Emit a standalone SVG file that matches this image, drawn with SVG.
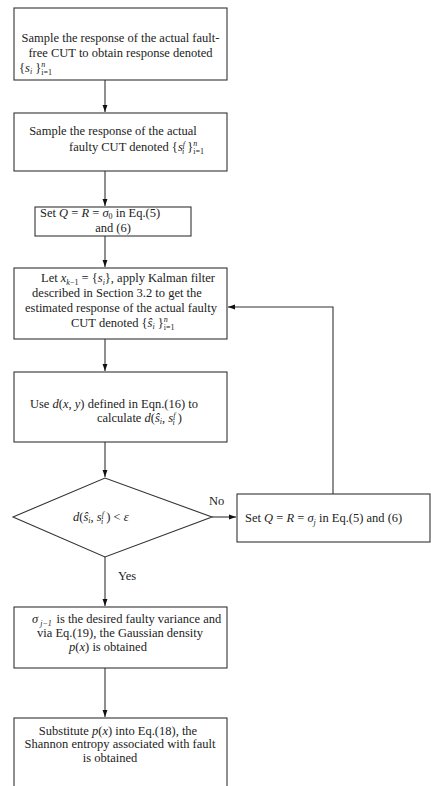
<svg xmlns="http://www.w3.org/2000/svg" width="431" height="786" viewBox="0 0 431 786">
<style>
text{font-family:"Liberation Serif","Times New Roman",serif;font-size:12.5px;fill:#222}
.c{text-anchor:middle}
.i{font-style:italic}
.s{font-size:8px}
.box{fill:#fff;stroke:#333;stroke-width:1.1}
.ln{stroke:#333;stroke-width:1.1;fill:none}
</style>
<defs>
<marker id="ah" markerWidth="7" markerHeight="11" refX="10" refY="3.5" orient="auto" markerUnits="userSpaceOnUse" viewBox="0 0 10 7">
<path d="M0,0 L10,3.5 L0,7 z" fill="#111"/>
</marker>
</defs>
<rect width="431" height="786" fill="#fff"/>
<g id="connectors">
<line class="ln" x1="105" y1="80" x2="105" y2="112" marker-end="url(#ah)"/>
<line class="ln" x1="105" y1="171" x2="105" y2="206" marker-end="url(#ah)"/>
<line class="ln" x1="105" y1="236" x2="105" y2="267" marker-end="url(#ah)"/>
<line class="ln" x1="105" y1="339" x2="105" y2="371" marker-end="url(#ah)"/>
<line class="ln" x1="105" y1="442" x2="105" y2="477" marker-end="url(#ah)"/>
<line class="ln" x1="212" y1="517" x2="236" y2="517" marker-end="url(#ah)"/>
<line class="ln" x1="105" y1="557" x2="105" y2="606" marker-end="url(#ah)"/>
<line class="ln" x1="105" y1="668" x2="105" y2="717" marker-end="url(#ah)"/>
<polyline class="ln" points="333,494 333,307 228,307" marker-end="url(#ah)"/>
<text x="209" y="505">No</text>
<text x="118" y="580">Yes</text>
</g>
<g id="n1">
<rect class="box" x="14" y="8" width="213" height="72"/>
<text class="c" x="120.5" y="42">Sample the response of the actual fault-</text>
<text class="c" x="120.5" y="57">free CUT to obtain response denoted</text>
<text x="19" y="72">{<tspan class="i">s</tspan><tspan class="i s" dy="2">i</tspan><tspan dy="-2"> }</tspan><tspan class="i s" dy="-5">n</tspan><tspan class="s" dx="-4" dy="8">i</tspan><tspan class="s">=1</tspan></text>
</g>
<g id="n2">
<rect class="box" x="14" y="113" width="213" height="58"/>
<text class="c" x="113" y="135">Sample the response of the actual</text>
<text x="69" y="151">faulty CUT denoted {<tspan class="i">s</tspan><tspan class="i s" dy="-4">f</tspan><tspan class="i s" dx="-3" dy="7">i</tspan><tspan dy="-3"> }</tspan><tspan class="i s" dy="-5">n</tspan><tspan class="s" dx="-4" dy="8">i</tspan><tspan class="s">=1</tspan></text>
</g>
<g id="n3">
<rect class="box" x="35" y="207" width="156" height="29"/>
<text x="40" y="217">Set  <tspan class="i">Q</tspan> = <tspan class="i">R</tspan> = <tspan class="i">σ</tspan><tspan class="s" dy="2">0</tspan><tspan dy="-2"> in Eq.(5)</tspan></text>
<text class="c" x="113" y="232">and (6)</text>
</g>
<g id="n4">
<rect class="box" x="14" y="268" width="213" height="71"/>
<text class="c" x="128" y="282">Let  <tspan class="i">x</tspan><tspan class="i s" dy="3">k</tspan><tspan class="s">−1</tspan><tspan dy="-3"> = {</tspan><tspan class="i">s</tspan><tspan class="i s" dy="3">i</tspan><tspan dy="-3">}, apply Kalman filter</tspan></text>
<text class="c" x="117" y="297">described in Section 3.2 to get the</text>
<text class="c" x="121" y="312">estimated response of the actual faulty</text>
<text x="71" y="327">CUT denoted  {<tspan class="i">ŝ</tspan><tspan class="i s" dy="2">i</tspan><tspan dy="-2"> }</tspan><tspan class="i s" dy="-5">n</tspan><tspan class="s" dx="-4" dy="8">i</tspan><tspan class="s">=1</tspan></text>
</g>
<g id="n5">
<rect class="box" x="14" y="372" width="213" height="70"/>
<text class="c" x="114" y="408">Use <tspan class="i">d</tspan>(<tspan class="i">x</tspan>, <tspan class="i">y</tspan>)  defined in Eqn.(16) to</text>
<text x="97" y="422">calculate <tspan class="i">d</tspan>(<tspan class="i">ŝ</tspan><tspan class="i s" dy="2">i</tspan><tspan dy="-2">, </tspan><tspan class="i">s</tspan><tspan class="i s" dy="-4">f</tspan><tspan class="i s" dx="-3" dy="7">i</tspan><tspan dy="-3"> )</tspan></text>
</g>
<g id="n6">
<polygon class="box" points="13,517 105,478 212,517 105,557"/>
<text x="73" y="521"><tspan class="i">d</tspan>(<tspan class="i">ŝ</tspan><tspan class="i s" dy="2">i</tspan><tspan dy="-2">, </tspan><tspan class="i">s</tspan><tspan class="i s" dy="-4">f</tspan><tspan class="i s" dx="-3" dy="7">i</tspan><tspan dy="-3"> ) &lt; </tspan><tspan class="i">ε</tspan></text>
</g>
<g id="n7">
<rect class="box" x="237" y="494" width="193" height="48"/>
<text x="245" y="522">Set <tspan class="i">Q</tspan> = <tspan class="i">R</tspan> = <tspan class="i">σ</tspan><tspan class="i s" dy="3">j</tspan><tspan dy="-3"> in Eq.(5) and (6)</tspan></text>
</g>
<g id="n8">
<rect class="box" x="14" y="607" width="213" height="61"/>
<text x="32" y="623"><tspan class="i">σ</tspan><tspan class="i s" dx="2" dy="3">j−1</tspan><tspan dx="1.5" dy="-3"> is the desired faulty variance and</tspan></text>
<text class="c" x="120" y="637">via Eq.(19), the Gaussian density</text>
<text class="c" x="108" y="651"><tspan class="i">p</tspan>(<tspan class="i">x</tspan>)  is obtained</text>
</g>
<g id="n9">
<rect class="box" x="14" y="718" width="213" height="90"/>
<text class="c" x="118" y="735">Substitute <tspan class="i">p</tspan>(<tspan class="i">x</tspan>) into Eq.(18), the</text>
<text class="c" x="120" y="748">Shannon entropy associated with fault</text>
<text class="c" x="110" y="762">is obtained</text>
</g>
</svg>
